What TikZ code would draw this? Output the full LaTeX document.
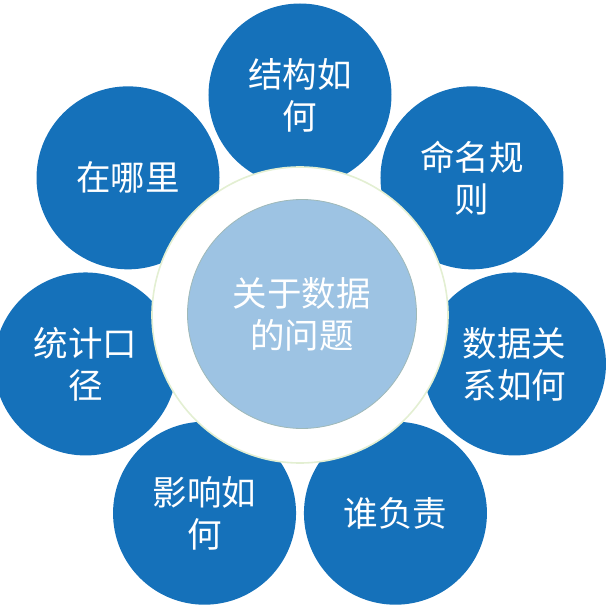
\documentclass[tikz,border=0pt]{standalone}
\usepackage{fontspec}
\newfontfamily\cjk{Noto Sans CJK SC}
\usepackage{tikz}
\usetikzlibrary{calc}
\definecolor{petalblue}{HTML}{1571BA}
\definecolor{hubblue}{HTML}{9DC3E3}
\definecolor{hubedge}{HTML}{9FB9B8}
\definecolor{ringedge}{HTML}{E3EFD2}

\begin{document}
\begin{tikzpicture}[
    x=1pt, y=1pt,
    font=\cjk\fontsize{34.5}{42}\selectfont,
    petal/.style={circle, fill=petalblue, text=white, minimum size=183pt,
                  inner sep=0pt, align=center},
    ring/.style={circle, fill=white, draw=ringedge, line width=1.6pt,
                 minimum size=296pt, inner sep=0pt},
    hub/.style={circle, fill=hubblue, draw=hubedge, line width=0.8pt,
                text=white, minimum size=229pt, inner sep=0pt, align=center}
  ]
    \useasboundingbox (-300,-293) rectangle (308,315);

    % seven petals round the hub
    \foreach \k/\txt in {0/{结构如\\何}, 1/{在哪里}, 2/{统计口\\径}, 3/{影响如\\何},
                         4/{谁负责}, 5/{数据关\\系如何}, 6/{命名规\\则}}
      \node[petal] (p\k) at ({90+\k*360/7}:220) {\txt};

    \node[ring] (ring) at (0,0) {};
    \node[hub] (hub) at (2,1) {关于数据\\的问题};
  \end{tikzpicture}
\end{document}
